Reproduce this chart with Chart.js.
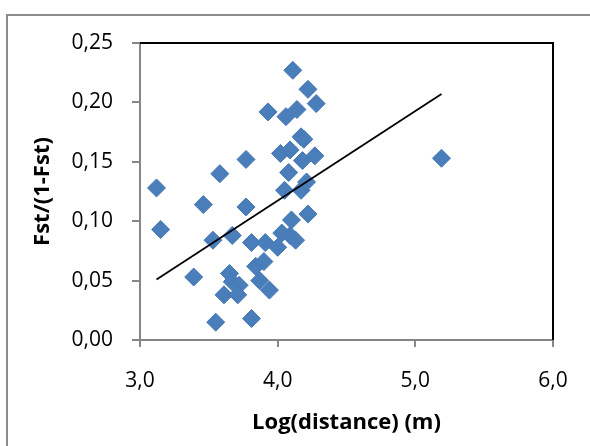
<!DOCTYPE html>
<html>
<head>
<meta charset="utf-8">
<script src="https://cdn.jsdelivr.net/npm/chart.js@4.4.1/dist/chart.umd.min.js"></script>
<style>
  html, body { margin: 0; padding: 0; background: #fff; }
  #wrap { position: relative; width: 590px; height: 446px; overflow: hidden; }
</style>
</head>
<body>
<div id="wrap">
  <canvas id="myChart" width="590" height="446"></canvas>
</div>
<script>
// log(distance) en metros y Fst/(1-Fst) de cada par de poblaciones
const logDistancia = [
    3.12, 3.15, 3.39, 3.46, 3.53, 3.58, 3.55, 3.61, 3.65, 3.67,
    3.72, 3.71, 3.67, 3.77, 3.77, 3.81, 3.81, 3.84, 3.90, 3.87,
    3.94, 3.91, 3.93, 4.00, 4.03, 4.09, 4.13, 4.10, 4.05, 4.08,
    4.02, 4.09, 4.06, 4.14, 4.11, 4.17, 4.19, 4.18, 4.17, 4.21,
    4.22, 4.27, 4.28, 4.22, 5.19
];
const fstRatio = [
    0.128, 0.093, 0.053, 0.114, 0.084, 0.140, 0.015, 0.038, 0.056, 0.049,
    0.046, 0.038, 0.088, 0.152, 0.112, 0.082, 0.018, 0.062, 0.066, 0.050,
    0.042, 0.082, 0.192, 0.078, 0.090, 0.088, 0.084, 0.101, 0.126, 0.141,
    0.157, 0.160, 0.188, 0.194, 0.227, 0.171, 0.169, 0.151, 0.126, 0.133,
    0.106, 0.155, 0.199, 0.211, 0.153
];

// extremos de la linea de tendencia
const tendenciaX = [3.12, 5.19];
const tendenciaY = [0.051, 0.207];

// ticks de los ejes
const ticksX = [3, 4, 5, 6];
const ticksY = [0, 0.05, 0.10, 0.15, 0.20, 0.25];

const fuenteTicks = { family: 'Open Sans', size: 21 };
const fuenteTitulo = { family: 'Open Sans', size: 22, weight: 'bold' };
const grisEje = '#868686';

// marco exterior y bordes superior/derecho del area de trazado
const marcoPlugin = {
    id: 'marco',
    beforeDraw(chart) {
        const ctx = chart.ctx;
        ctx.save();
        ctx.strokeStyle = '#8c8c8c';
        ctx.lineWidth = 2;
        ctx.strokeRect(7, 15, 600, 460);
        ctx.restore();
    },
    afterDraw(chart) {
        const a = chart.chartArea;
        const ctx = chart.ctx;
        ctx.save();
        ctx.strokeStyle = '#000';
        ctx.lineWidth = 2;
        ctx.beginPath();
        ctx.moveTo(a.left, a.top);
        ctx.lineTo(a.right, a.top);
        ctx.lineTo(a.right, a.bottom);
        ctx.stroke();
        ctx.restore();
    }
};

const puntos = logDistancia.map((x, i) => ({ x: x, y: fstRatio[i] }));
const tendencia = tendenciaX.map((x, i) => ({ x: x, y: tendenciaY[i] }));

const ctx = document.getElementById('myChart').getContext('2d');
new Chart(ctx, {
    type: 'scatter',
    data: {
        datasets: [
            {
                type: 'line',
                label: 'Tendencia',
                data: tendencia,
                borderColor: '#000',
                borderWidth: 1.8,
                pointRadius: 0,
                fill: false,
                order: 0
            },
            {
                label: 'Fst/(1-Fst)',
                data: puntos,
                pointStyle: 'rectRot',
                pointRadius: 9,
                pointHoverRadius: 9,
                backgroundColor: '#4A7EBB',
                borderColor: '#4677B3',
                borderWidth: 1,
                order: 1
            }
        ]
    },
    options: {
        responsive: false,
        animation: false,
        layout: { padding: { left: 0, top: 43, right: 37, bottom: 0 } },
        plugins: {
            legend: { display: false },
            tooltip: { enabled: false }
        },
        scales: {
            x: {
                type: 'linear',
                min: 3,
                max: 6,
                afterBuildTicks: (scale) => { scale.ticks = ticksX.map(v => ({ value: v })); },
                afterFit: (scale) => { scale.height = 106; },
                ticks: {
                    color: '#000',
                    font: fuenteTicks,
                    padding: 21,
                    maxRotation: 0,
                    callback: (v) => Number(v).toFixed(1).replace('.', ',')
                },
                grid: {
                    drawOnChartArea: false,
                    drawTicks: true,
                    tickLength: 7,
                    color: grisEje,
                    lineWidth: 2
                },
                border: { color: grisEje, width: 2 },
                title: {
                    display: true,
                    text: 'Log(distance) (m)',
                    color: '#000',
                    font: fuenteTitulo,
                    padding: { top: 0, bottom: 10 }
                }
            },
            y: {
                type: 'linear',
                min: 0,
                max: 0.25,
                afterBuildTicks: (scale) => { scale.ticks = ticksY.map(v => ({ value: v })); },
                afterFit: (scale) => { scale.width = 140; },
                ticks: {
                    color: '#000',
                    font: fuenteTicks,
                    padding: 19,
                    callback: (v) => Number(v).toFixed(2).replace('.', ',')
                },
                grid: {
                    drawOnChartArea: false,
                    drawTicks: true,
                    tickLength: 8,
                    color: grisEje,
                    lineWidth: 2
                },
                border: { color: grisEje, width: 2 },
                title: {
                    display: true,
                    text: 'Fst/(1-Fst)',
                    color: '#000',
                    font: fuenteTitulo,
                    padding: { top: 30, bottom: 0 }
                }
            }
        }
    },
    plugins: [marcoPlugin]
});
</script>
</body>
</html>
